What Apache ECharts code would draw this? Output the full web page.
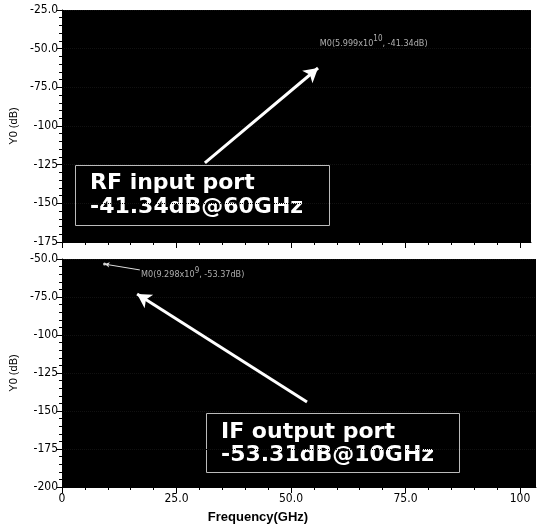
<!DOCTYPE html>
<html><head><meta charset="utf-8">
<script src="https://cdn.jsdelivr.net/npm/echarts@6/dist/echarts.min.js"></script>
<style>html,body{margin:0;padding:0;background:#fff}#c{width:537px;height:525px}</style>
</head><body><div id="c"></div>
<script>
// Data
const xTickValues = [0, 25, 50, 75, 100];
const xMinorTickValues = [5, 10, 15, 20, 30, 35, 40, 45, 55, 60, 65, 70, 80, 85, 90, 95];
const topYTicks = [-25, -50, -75, -100, -125, -150, -175];
const bottomYTicks = [-50, -75, -100, -125, -150, -175, -200];
const topMarker = [59.99, -41.34];       // M0 on RF input port (GHz, dB)
const bottomMarker = [9.298, -53.37];    // M0 on IF output port (GHz, dB)
const topArrow = [[31.2, -123.9], [55.9, -62.5]];
const bottomArrow = [[53.5, -144.1], [16.4, -73.0]];
const bottomLeader = [[9.298, -53.37], [17.0, -57.2]];
const topBoxText = ['RF input port', '-41.34dB@60GHz'];
const bottomBoxText = ['IF output port', '-53.31dB@10GHz'];

const tickFont = '"Liberation Sans Narrow","DejaVu Sans Condensed","Liberation Sans",sans-serif';
const yFmt = v => Math.abs(v) >= 100 ? String(v) : v.toFixed(1);
const xFmt = v => v === 0 ? '0' : (v >= 100 ? String(v) : v.toFixed(1));

function xAxes(gridIndex, max, showLabel) {
  // main axis with labels + major ticks
  return [{
    type: 'value', gridIndex, min: 0, max,
    axisLine: { show: true, onZero: false, lineStyle: { color: '#000', width: 1 } },
    axisTick: { show: true, length: 6, lineStyle: { color: '#000' }, customValues: xTickValues },
    splitLine: { show: false },
    axisLabel: { show: showLabel, formatter: xFmt, color: '#000', fontFamily: tickFont, fontSize: 12, margin: 6,
      customValues: xTickValues },
  }, {
    // overlay axis for minor ticks
    type: 'value', gridIndex, min: 0, max, position: 'bottom',
    axisLine: { show: false },
    axisTick: { show: true, length: 3, lineStyle: { color: '#000' }, customValues: xMinorTickValues },
    splitLine: { show: false },
    axisLabel: { show: false, customValues: xMinorTickValues },
  }];
}
function yAxis(gridIndex, min, max, ticks) {
  return {
    type: 'value', gridIndex, min, max, interval: 25,
    name: 'Y0 (dB)', nameLocation: 'middle', nameGap: 40,
    nameTextStyle: { color: '#000', fontFamily: '"Liberation Sans",sans-serif', fontSize: 11 },
    axisLine: { show: true, onZero: false, lineStyle: { color: '#000', width: 1 } },
    axisTick: { show: true, length: 5, lineStyle: { color: '#000' } },
    minorTick: { show: true, splitNumber: 5, length: 3, lineStyle: { color: '#000' } },
    splitLine: { show: true, lineStyle: { color: '#111', type: 'dotted' } },
    axisLabel: { formatter: yFmt, color: '#000', fontFamily: tickFont, fontSize: 12, margin: 4, customValues: ticks },
  };
}

const chart = echarts.init(document.getElementById('c'), null, { renderer: 'canvas' });
const markerLabelStyle = {
  a: { color: '#d8d8d8', fontSize: 9, fontFamily: tickFont },
  s: { color: '#d8d8d8', fontSize: 8, fontFamily: tickFont, padding: [0, 0, 8, 0] }
};
const topX = xAxes(0, 102.4, false);
const botX = xAxes(1, 103.5, true);
const option = {
  backgroundColor: '#fff',
  animation: false,
  grid: [
    { left: 62, top: 10, width: 469, height: 232, show: true, backgroundColor: '#000', borderWidth: 0 },
    { left: 62, top: 259, width: 474, height: 228, show: true, backgroundColor: '#000', borderWidth: 0 }
  ],
  xAxis: [topX[0], botX[0], topX[1], botX[1]],
  yAxis: [yAxis(0, -175, -25, topYTicks), yAxis(1, -200, -50, bottomYTicks)],
  series: [
    {
      type: 'scatter', xAxisIndex: 0, yAxisIndex: 0, data: [topMarker], symbolSize: 2,
      itemStyle: { color: '#000' },
      label: { show: true, position: [-16, 9], align: 'left', verticalAlign: 'middle',
        formatter: '{a|M0(5.999x10}{s|10}{a|, -41.34dB)}', rich: markerLabelStyle },
      markLine: {
        silent: true, symbol: ['none', 'arrow'], symbolSize: [12, 14], label: { show: false },
        lineStyle: { color: '#fff', width: 3, type: 'solid' },
        data: [[{ coord: topArrow[0] }, { coord: topArrow[1] }]]
      }
    },
    {
      type: 'scatter', xAxisIndex: 1, yAxisIndex: 1, data: [bottomMarker], symbolSize: 3,
      itemStyle: { color: '#fff' },
      label: { show: true, position: [38, 12], align: 'left', verticalAlign: 'middle',
        formatter: '{a|M0(9.298x10}{s|9}{a|, -53.37dB)}', rich: markerLabelStyle },
      markLine: {
        silent: true, label: { show: false }, symbolSize: [12, 14],
        data: [
          [{ coord: bottomArrow[0], symbol: 'none', lineStyle: { color: '#fff', width: 3, type: 'solid' } },
           { coord: bottomArrow[1], symbol: 'arrow' }],
          [{ coord: bottomLeader[1], symbol: 'none', lineStyle: { color: '#ddd', width: 1, type: 'solid' } },
           { coord: bottomLeader[0], symbol: 'arrow', symbolSize: [4, 5] }]
        ]
      }
    }
  ],
  graphic: [
    { type: 'rect', shape: { x: 75.5, y: 165.5, width: 254, height: 60 },
      style: { fill: 'none', stroke: '#bbb', lineWidth: 1 } },
    { type: 'text', x: 90, y: 171, style: { text: topBoxText.join('\n'), fill: '#fff',
      font: 'bold 22px "DejaVu Sans"', lineHeight: 24 } },
    { type: 'rect', shape: { x: 206.5, y: 413.5, width: 253, height: 59 },
      style: { fill: 'none', stroke: '#bbb', lineWidth: 1 } },
    { type: 'text', x: 221, y: 420.5, style: { text: bottomBoxText.join('\n'), fill: '#fff',
      font: 'bold 22px "DejaVu Sans"', lineHeight: 23 } },
    { type: 'text', x: 258, y: 517, style: { text: 'Frequency(GHz)', fill: '#000',
      font: 'bold 13px "Liberation Sans"', align: 'center', verticalAlign: 'middle' } }
  ]
};
chart.setOption(option);
</script></body></html>
